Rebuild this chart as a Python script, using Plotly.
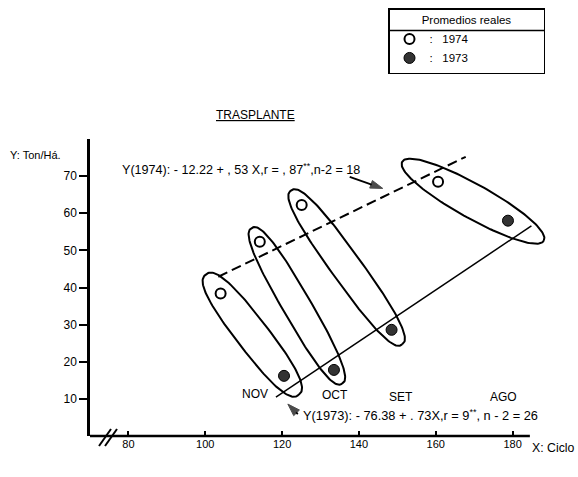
import numpy as np
import plotly.graph_objects as go

# ---------------- data ----------------
x_1974 = [104.0, 114.2, 125.1, 160.6]
y_1974 = [38.4, 52.3, 62.2, 68.5]
x_1973 = [120.5, 133.5, 148.5, 178.8]
y_1973 = [16.2, 17.8, 28.6, 58.0]
months = ["NOV", "OCT", "SET", "AGO"]
month_x = [113.0, 133.7, 150.9, 177.7]
month_y = [11.3, 11.0, 10.5, 10.5]
reg74_x = [103.4, 167.8]
reg74_y = [42.9, 75.2]
reg73_x = [118.4, 184.9]
reg73_y = [10.5, 56.6]
xticks = [80, 100, 120, 140, 160, 180]
yticks = [10, 20, 30, 40, 50, 60, 70]
eq_1974 = "Y(1974): - 12.22 + , 53 X,r = , 87<sup>**</sup>,n-2 = 18"
eq_1973 = "Y(1973): - 76.38 + . 73X,r = 9<sup>**</sup>, n - 2 = 26"
# pointer arrows: (tail x, tail y, head x, head y) in data units
arrow_74 = [137.6, 69.8, 146.2, 66.7]
arrow_73 = [124.1, 5.9, 121.5, 8.6]

# ---------------- layout geometry ----------------
W, H = 578, 477
ML, MR, MT, MB = 90, 27, 139, 41
XR = [70, 190]
YR = [0, 80]
PW, PH = W - ML - MR, H - MT - MB
KX = PW / (XR[1] - XR[0])
KY = PH / (YR[1] - YR[0])
FONT = "Liberation Sans, Arial, sans-serif"
X_AXIS_END = 184.5


def paper(px, py):
    return (px - ML) / PW, (H - MB - py) / PH


def loop(xa, ya, xb, yb, ext, hw, n=2.0, npts=160):
    ax_, ay_ = xa * KX, ya * KY
    bx_, by_ = xb * KX, yb * KY
    cx, cy = (ax_ + bx_) / 2, (ay_ + by_) / 2
    dx, dy = bx_ - ax_, by_ - ay_
    L = np.hypot(dx, dy)
    ux, uy = dx / L, dy / L
    a = L / 2 + ext
    t = np.linspace(0, 2 * np.pi, npts)
    c, s = np.cos(t), np.sin(t)
    u = a * np.sign(c) * np.abs(c) ** (2 / n)
    v = hw * np.sign(s) * np.abs(s) ** (2 / n)
    px = cx + u * ux - v * uy
    py = cy + u * uy + v * ux
    return px / KX, py / KY


loop_style = [(24, 16, 2.6), (16, 14, 2.6), (18, 15, 2.6), (41, 17, 2.1)]

fig = go.Figure()

for i in range(len(x_1974)):
    ext, hw, n = loop_style[i]
    lx, ly = loop(x_1974[i], y_1974[i], x_1973[i], y_1973[i], ext, hw, n)
    fig.add_trace(go.Scatter(x=lx, y=ly, mode="lines", line=dict(color="black", width=2),
                             showlegend=False, hoverinfo="skip"))

fig.add_trace(go.Scatter(x=reg74_x, y=reg74_y, mode="lines",
                         line=dict(color="black", width=2, dash="10px,5px"),
                         showlegend=False, hoverinfo="skip"))
fig.add_trace(go.Scatter(x=reg73_x, y=reg73_y, mode="lines",
                         line=dict(color="black", width=1.5),
                         showlegend=False, hoverinfo="skip"))

for ar in (arrow_74, arrow_73):
    fig.add_trace(go.Scatter(x=[ar[0], ar[2]], y=[ar[1], ar[3]], mode="lines+markers",
                             line=dict(color="black", width=1.8),
                             marker=dict(symbol="arrow", size=[0, 13], angleref="previous",
                                         color="black", line=dict(color="black", width=1)),
                             cliponaxis=False, showlegend=False, hoverinfo="skip"))

nbsp = "\u00a0"
fig.add_trace(go.Scatter(x=x_1974, y=y_1974, mode="markers",
                         name=":" + nbsp * 3 + "1974" + nbsp * 22,
                         marker=dict(symbol="circle", size=10, color="white",
                                     line=dict(color="black", width=2))))
fig.add_trace(go.Scatter(x=x_1973, y=y_1973, mode="markers",
                         name=":" + nbsp * 3 + "1973" + nbsp * 22,
                         marker=dict(symbol="circle", size=11, color="#333333",
                                     line=dict(color="black", width=1))))

ann = []


def txt(px, py, text, size=11, anchor="left"):
    xp, yp = paper(px, py)
    ann.append(dict(xref="paper", yref="paper", x=xp, y=yp, text=text, showarrow=False,
                    xanchor=anchor, yanchor="middle",
                    font=dict(size=size, family=FONT, color="black")))


txt(255, 115, "<u>TRASPLANTE</u>", 12, "center")
txt(8, 155, "Y: Ton/Há.", 11, "left")
txt(120, 169, eq_1974, 12.6, "left")
txt(301, 415, eq_1973, 12.8, "left")
txt(530, 448, "X: Ciclo", 12.3, "left")

for m, mx, my in zip(months, month_x, month_y):
    ann.append(dict(x=mx, y=my, xref="x", yref="y", text=m, showarrow=False,
                    xanchor="center", yanchor="middle",
                    font=dict(size=12, family=FONT, color="black")))

shapes = []
# x axis line (stops before the plot's right edge)
ax1 = (X_AXIS_END - XR[0]) / (XR[1] - XR[0])
shapes.append(dict(type="line", xref="paper", yref="paper", x0=0, y0=0, x1=ax1, y1=0,
                   line=dict(color="black", width=2.5)))
# axis break marks
for (x0, y0, x1, y1) in [(99, 446, 111, 429), (105, 446, 117, 429)]:
    a0, b0 = paper(x0, y0)
    a1, b1 = paper(x1, y1)
    shapes.append(dict(type="line", xref="paper", yref="paper", x0=a0, y0=b0, x1=a1, y1=b1,
                       line=dict(color="black", width=2)))
# legend header separator
s0, sy = paper(388, 30.5)
s1, _ = paper(545, 30.5)
shapes.append(dict(type="line", xref="paper", yref="paper", x0=s0, y0=sy, x1=s1, y1=sy,
                   line=dict(color="black", width=1.5)))

lx0, ly0 = paper(388, 8)

fig.update_layout(
    width=W, height=H,
    margin=dict(l=ML, r=MR, t=MT, b=MB, pad=0, autoexpand=False),
    paper_bgcolor="white", plot_bgcolor="white",
    font=dict(family=FONT, size=11, color="black"),
    xaxis=dict(range=XR, tickvals=xticks, showgrid=False, zeroline=False,
               showline=False,
               ticks="inside", ticklen=5, tickwidth=2, tickcolor="black",
               tickfont=dict(size=11, family=FONT, color="black")),
    yaxis=dict(range=YR, tickvals=yticks, showgrid=False, zeroline=False,
               showline=True, linewidth=2.5, linecolor="black",
               ticks="outside", ticklen=8, tickwidth=2, tickcolor="black",
               tickfont=dict(size=12, family=FONT, color="black")),
    legend=dict(x=lx0, y=ly0, xanchor="left", yanchor="top",
                bgcolor="rgba(0,0,0,0)", bordercolor="black", borderwidth=1.5,
                title=dict(text="Promedios reales", side="top center",
                           font=dict(size=11.5, family=FONT, color="black")),
                font=dict(size=11.5, family=FONT, color="black"),
                itemwidth=30, tracegroupgap=0),
    annotations=ann,
    shapes=shapes,
)

fig.write_html("out.html")
